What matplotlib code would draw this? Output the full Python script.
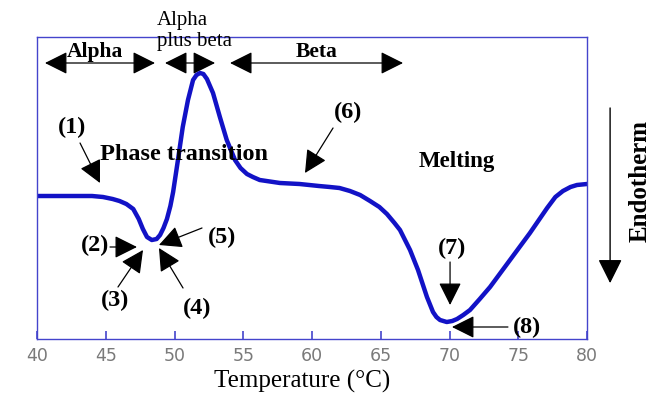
import matplotlib
matplotlib.use("Agg")
import matplotlib.pyplot as plt
from matplotlib.patches import FancyArrowPatch

# DSC trace (heat flow, arbitrary units) against temperature
temperature = [40.0, 42.0, 44.0, 44.8, 45.5, 46.0, 46.5, 47.0, 47.4, 47.7,
               48.0, 48.35, 48.7, 48.95, 49.2, 49.45, 49.7, 49.9, 50.25, 50.6,
               50.98, 51.35, 51.6, 51.85, 52.1, 52.36, 52.8, 53.3, 53.8, 54.4,
               54.8, 55.27, 55.7, 56.2, 57.67, 59.1, 60.5, 61.3, 62.0, 62.76,
               63.5, 64.22, 64.9, 65.45, 66.0, 66.4, 67.13, 67.71, 68.36, 68.8,
               69.05, 69.31, 69.8, 70.2, 70.55, 71.0, 71.49, 72.2, 72.95, 74.4,
               75.85, 76.5, 77.1, 77.7, 78.25, 78.8, 79.27, 80.0]
heat_flow = [1.43, 1.43, 1.43, 1.42, 1.40, 1.38, 1.35, 1.30, 1.20, 1.10,
             1.02, 0.99, 1.00, 1.04, 1.11, 1.20, 1.33, 1.47, 1.79, 2.12,
             2.39, 2.59, 2.64, 2.66, 2.65, 2.60, 2.46, 2.22, 1.99, 1.79,
             1.71, 1.65, 1.62, 1.59, 1.56, 1.55, 1.53, 1.52, 1.51, 1.48,
             1.44, 1.38, 1.32, 1.25, 1.16, 1.09, 0.89, 0.69, 0.42, 0.27,
             0.22, 0.19, 0.17, 0.18, 0.20, 0.24, 0.29, 0.40, 0.52, 0.79,
             1.06, 1.19, 1.31, 1.42, 1.48, 1.52, 1.54, 1.55]
xticks = [40, 45, 50, 55, 60, 65, 70, 75, 80]

# numbered points: label, label position, arrow tail, arrow tip
points = [
    ("(1)", (42.55, 2.12), (43.13, 1.96), (44.58, 1.56)),
    ("(2)", (44.22, 0.94), (45.31, 0.92), (47.27, 0.92)),
    ("(3)", (45.67, 0.39), (45.89, 0.52), (47.71, 0.89)),
    ("(4)", (51.64, 0.31), (50.62, 0.51), (48.87, 0.91)),
    ("(5)", (53.45, 1.02), (52.00, 1.11), (48.87, 0.94)),
    ("(6)", (62.62, 2.27), (61.53, 2.11), (59.49, 1.66)),
    ("(7)", (70.18, 0.91), (70.04, 0.77), (70.04, 0.34)),
    ("(8)", (75.64, 0.12), (74.25, 0.12), (70.18, 0.12)),
]
# phase ranges across the top
phases = [("Alpha", 40.58, 48.58), ("", 49.31, 52.95), ("Beta", 54.04, 66.62)]

serif = "Liberation Serif"
spine_col = "#4444cc"
line_col = "#1212c6"


def arrow(ax, tail, tip, style="-|>", **kw):
    a = FancyArrowPatch(tail, tip, arrowstyle=f"{style},head_length=14,head_width=7",
                        mutation_scale=1, color="black", lw=0.9,
                        shrinkA=0, shrinkB=0, **kw)
    ax.add_patch(a)


fig = plt.figure(figsize=(6.62, 3.96), dpi=100)
ax = fig.add_axes([37 / 662, 57 / 396, 550 / 662, 302 / 396])

ax.plot(temperature, heat_flow, color=line_col, lw=3.2,
        solid_joinstyle="round", solid_capstyle="round")

ax.set_xlim(40, 80)
ax.set_ylim(0, 3.02)
ax.set_xticks(xticks)
ax.set_yticks([])
ax.tick_params(axis="x", direction="in", length=6, width=1.2, color=spine_col,
               labelcolor="#7a7a7a", labelsize=12.5, pad=6)
for lab in ax.get_xticklabels():
    lab.set_fontfamily("DejaVu Sans")
for s in ax.spines.values():
    s.set_color(spine_col)
    s.set_linewidth(1.0)

# phase range arrows
for name, x0, x1 in phases:
    arrow(ax, (x0, 2.76), (x1, 2.76), style="<|-|>")
    if name:
        ax.text((x0 + x1) / 2 if name == "Beta" else 44.22, 2.87, name,
                ha="center", va="center", fontsize=15.5, fontweight="bold",
                family=serif)
ax.text(48.73, 3.28, "Alpha\nplus beta", ha="left", va="top", fontsize=15,
        family=serif, linespacing=1.12)

ax.text(44.58, 1.84, "Phase transition", ha="left", va="center",
        fontsize=17.5, fontweight="bold", family=serif)
ax.text(70.55, 1.77, "Melting", ha="center", va="center",
        fontsize=16.5, fontweight="bold", family=serif)

for label, pos, tail, tip in points:
    ax.text(pos[0], pos[1], label, ha="center", va="center", fontsize=17.5,
            fontweight="bold", family=serif)
    arrow(ax, tail, tip)

ax.text(0.482, -0.142, "Temperature (\u00b0C)", transform=ax.transAxes,
        ha="center", va="center", fontsize=18, family=serif)

# endotherm direction marker on the right
end_arrow = FancyArrowPatch((1.042, 0.765), (1.042, 0.185),
                            transform=ax.transAxes,
                            arrowstyle="-|>,head_length=15,head_width=7.5",
                            mutation_scale=1, color="black", lw=1.0,
                            shrinkA=0, shrinkB=0, clip_on=False)
ax.add_patch(end_arrow)
ax.text(1.096, 0.523, "Endotherm", transform=ax.transAxes, rotation=90,
        ha="center", va="center", fontsize=18, fontweight="bold", family=serif)

fig.savefig("out.png", dpi=100)
